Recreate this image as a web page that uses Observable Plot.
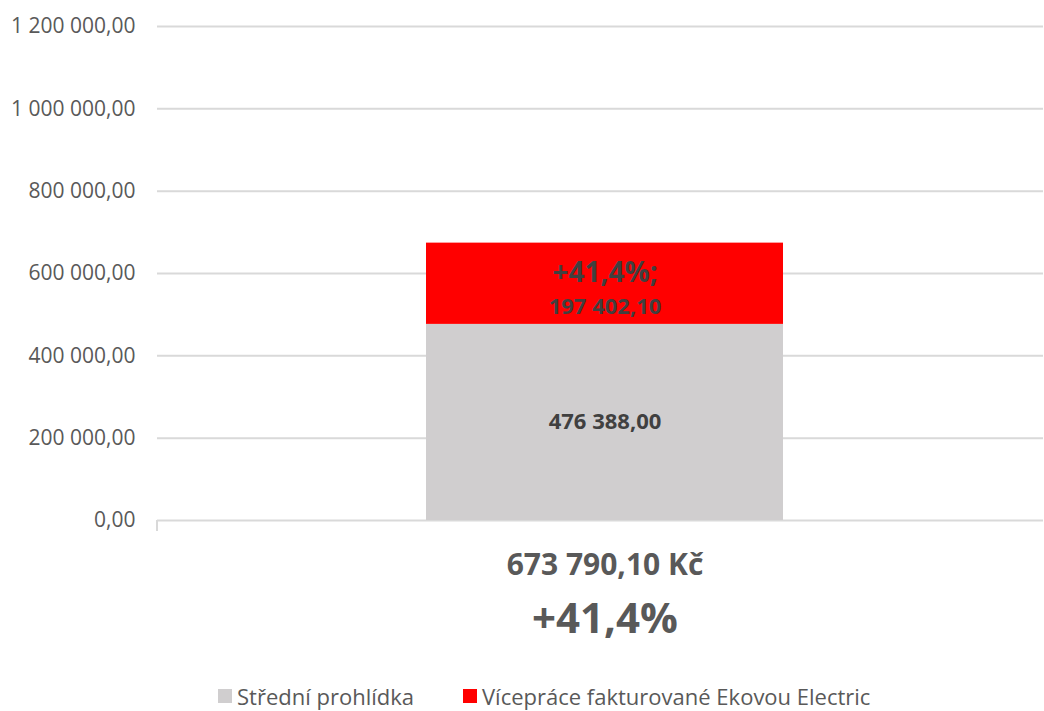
<!DOCTYPE html>
<html>
<head>
<meta charset="utf-8">
<script src="https://cdn.jsdelivr.net/npm/d3@7"></script>
<script src="https://cdn.jsdelivr.net/npm/@observablehq/plot@0.6"></script>
<style>
  html, body { margin: 0; padding: 0; background: #fff; }
  body { width: 1044px; height: 711px; overflow: hidden; font-family: "Open Sans", sans-serif; }
  #chart svg { display: block; }
  #legend { display: flex; justify-content: flex-start; padding-left: 218px; gap: 49px; font-size: 22px; color: #595959; margin-top: 23px; line-height: 26px; }
  .item { display: flex; align-items: center; white-space: nowrap; }
  .sw { width: 14px; height: 14px; margin-right: 5px; display: inline-block; }
</style>
</head>
<body>
<div id="chart"></div>
<div id="legend"></div>
<script>
const categories = ["673 790,10 Kč"];
const percentLabels = ["+41,4%"];
const seriesNames = ["Střední prohlídka", "Vícepráce fakturované Ekovou Electric"];
const seriesColors = ["#d0cecf", "#ff0000"];
const stredniValues = [476388.00];
const viceValues = [197402.10];
const segmentPrefix = ["", "+41,4%;"];
const yTicks = [0, 200000, 400000, 600000, 800000, 1000000, 1200000];

const loc = d3.formatLocale({decimal: ",", thousands: " ", grouping: [3]});
const fmt = loc.format(",.2f");

const rows = [];
categories.forEach((c, i) => {
  rows.push({cat: c, series: seriesNames[0], value: stredniValues[i], prefix: segmentPrefix[0]});
  rows.push({cat: c, series: seriesNames[1], value: viceValues[i], prefix: segmentPrefix[1]});
});
const catRows = categories.map((c, i) => ({cat: c, pct: percentLabels[i]}));

const leftTick = (index, scales, values, dims) => {
  const ns = "http://www.w3.org/2000/svg";
  const l = document.createElementNS(ns, "line");
  const x = dims.marginLeft;
  const y = dims.height - dims.marginBottom;
  l.setAttribute("x1", x); l.setAttribute("x2", x);
  l.setAttribute("y1", y); l.setAttribute("y2", y + 11);
  l.setAttribute("stroke", "#d9d9d9"); l.setAttribute("stroke-width", 2);
  return l;
};

const stackOpts = {x: "cat", y: "value", z: "series", order: seriesNames};

const chart = Plot.plot({
  width: 1044,
  height: 660,
  marginTop: 26,
  marginBottom: 140,
  marginLeft: 157,
  marginRight: 1,
  style: {fontFamily: "'Open Sans', sans-serif", background: "#fff"},
  x: {domain: categories, padding: 0.4245, align: 0.508, axis: null},
  y: {domain: [0, 1200000], ticks: yTicks, tickFormat: fmt, label: null},
  color: {domain: seriesNames, range: seriesColors},
  marks: [
    Plot.gridY(yTicks, {stroke: "#d9d9d9", strokeOpacity: 1, strokeWidth: 2}),
    Plot.axisY(yTicks, {tickSize: 0, tickPadding: 22, fontSize: 21, fill: "#595959", tickFormat: fmt, label: null}),
    Plot.barY(rows, {x: "cat", y: "value", fill: "series", order: seriesNames}),
    leftTick,
    Plot.text(rows, Plot.stackY({...stackOpts,
      text: d => d.prefix === "" ? fmt(d.value) : "", fontSize: 22, fontWeight: "bold", fill: "#404040"})),
    Plot.text(rows, Plot.stackY({...stackOpts,
      text: "prefix", fontSize: 28, fontWeight: "bold", fill: "#404040", dy: -11})),
    Plot.text(rows, Plot.stackY({...stackOpts,
      text: d => d.prefix !== "" ? fmt(d.value) : "", fontSize: 22, fontWeight: "bold", fill: "#404040", dy: 23})),
    Plot.text(catRows, {x: "cat", text: "cat", frameAnchor: "bottom", dy: 54, fontSize: 30, fontWeight: "bold", fill: "#595959"}),
    Plot.text(catRows, {x: "cat", text: "pct", frameAnchor: "bottom", dy: 112, fontSize: 42, fontWeight: "bold", fill: "#595959"})
  ]
});
document.getElementById("chart").appendChild(chart);

const legend = document.getElementById("legend");
seriesNames.forEach((s, i) => {
  const item = document.createElement("span");
  item.className = "item";
  const sw = document.createElement("span");
  sw.className = "sw";
  sw.style.background = seriesColors[i];
  item.appendChild(sw);
  item.appendChild(document.createTextNode(s));
  legend.appendChild(item);
});
</script>
</body>
</html>
